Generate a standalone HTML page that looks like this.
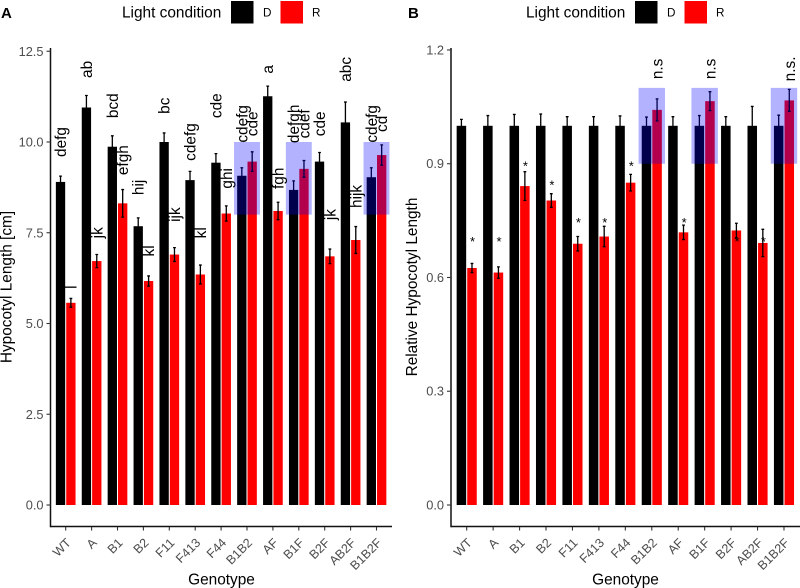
<!DOCTYPE html>
<html>
<head>
<meta charset="utf-8">
<title>Hypocotyl length by genotype</title>
<style>
html,body{margin:0;padding:0;background:#fff;width:800px;height:588px;overflow:hidden}
svg{display:block;font-family:"Liberation Sans",Arial,sans-serif}
</style>
</head>
<body>
<svg id="fig" xmlns="http://www.w3.org/2000/svg" width="800" height="588" viewBox="0 0 800 588">
  <rect x="0" y="0" width="800" height="588" fill="#fff"/>
  <g id="panelA"></g>
  <g id="panelB"></g>
</svg>
<script>
// ---- shared ----
const genotypes = ["WT","A","B1","B2","F11","F413","F44","B1B2","AF","B1F","B2F","AB2F","B1B2F"];

// ---- panel A: hypocotyl length [cm] ----
const lengthD = [8.90,10.95,9.87,7.68,10.00,8.95,9.43,9.07,11.26,8.68,9.46,10.54,9.03];
const lengthR = [5.57,6.72,8.31,6.17,6.90,6.35,8.03,9.46,8.10,9.26,6.85,7.30,9.64];
const lengthErrD = [0.16,0.33,0.30,0.23,0.25,0.24,0.25,0.22,0.28,0.25,0.25,0.56,0.26];
const lengthErrR = [0.12,0.18,0.38,0.14,0.19,0.26,0.21,0.27,0.24,0.23,0.20,0.37,0.28];
const lettersD = ["defg","ab","bcd","hij","bc","cdefg","cde","cdefg","a","defgh","cde","abc","cdefg"];
const lettersR = ["l","jk","efgh","kl","ijk","kl","ghi","cde","fgh","cdef","jk","hijk","cd"];
const lettersAtD = [10,12,11,8.75,11,10,11,10.5,12,10.5,10.5,12,10.5];
const lettersAtR = [6,7.5,9.5,7,8,7.5,9,10.5,9,10.5,8,8.5,10.5];
const lengthTicks = ["0.0","2.5","5.0","7.5","10.0","12.5"];
const lengthHighlights = ["B1B2","B1F","B1B2F"];
const lengthHighlightRange = [8,10];

// ---- panel B: relative hypocotyl length ----
const relativeD = [1,1,1,1,1,1,1,1,1,1,1,1,1];
const relativeR = [0.625,0.613,0.841,0.803,0.689,0.708,0.850,1.042,0.719,1.065,0.724,0.691,1.067];
const relativeErrD = [0.017,0.027,0.030,0.031,0.024,0.024,0.026,0.023,0.024,0.027,0.024,0.051,0.028];
const relativeErrR = [0.012,0.015,0.038,0.018,0.019,0.027,0.022,0.029,0.019,0.025,0.019,0.036,0.029];
const marksR = ["*","*","*","*","*","*","*","n.s","*","n.s","*","*","n.s."];
const marksAtR = [0.70,0.70,0.90,0.85,0.75,0.75,0.90,1.15,0.75,1.15,0.70,0.70,1.15];
const relativeTicks = ["0.0","0.3","0.6","0.9","1.2"];
const relativeHighlights = ["B1B2","B1F","B1B2F"];
const relativeHighlightRange = [0.9,1.1];

const SVGNS = "http://www.w3.org/2000/svg";
function mk(parent, tag, attrs, txt){
  const el = document.createElementNS(SVGNS, tag);
  for (const k in attrs) el.setAttribute(k, attrs[k]);
  if (txt !== undefined) el.textContent = txt;
  parent.appendChild(el);
  return el;
}

function drawPanel(cfg){
  const g = cfg.root;
  const x = i => cfg.x0 + cfg.step * i;
  const y = v => 505 - cfg.scale * v;
  const half = cfg.step * 0.2, bw = cfg.step * 0.36, cap = 1.4;

  // bars + error bars
  genotypes.forEach((name, i) => {
    [[cfg.d, cfg.ed, -1, "#000", "d"], [cfg.r, cfg.er, 1, "#ff0000", "r"]].forEach(s => {
      const cx = x(i) + s[2] * half, v = s[0][i], e = s[1][i];
      const bar = mk(g, "rect", {x: cx - bw / 2, y: y(v), width: bw, height: 505 - y(v), fill: s[3]});
      
      
      const err = mk(g, "path", {
        d: "M" + (cx - cap) + " " + y(v + e) + "H" + (cx + cap) +
           "M" + cx + " " + y(v + e) + "V" + y(v - e) +
           "M" + (cx - cap) + " " + y(v - e) + "H" + (cx + cap),
        stroke: "#000", "stroke-width": 1.3, fill: "none"});
      
      
    });
  });

  // highlight boxes
  cfg.highlights.forEach(name => {
    const i = genotypes.indexOf(name);
    const hl = mk(g, "rect", {x: x(i) - cfg.step / 2, y: y(cfg.range[1]), width: cfg.step,
      height: y(cfg.range[0]) - y(cfg.range[1]), fill: "#0000ff", "fill-opacity": 0.3});
    
    
  });

  // significance text
  cfg.annotations.forEach(a => {
    a.text.forEach((t, i) => {
      const cx = x(i) + a.side * half;
      if (t === "*") {
        const star = mk(g, "text", {x: cx + 0.6, y: y(a.at[i]) + 6.6, "font-size": 13, "text-anchor": "middle", fill: "#000"}, t);
        
        
      } else {
        const lab = mk(g, "text", {transform: "translate(" + (cx + 5.5) + "," + y(a.at[i]) + ") rotate(-90)",
          "font-size": 15.4, "text-anchor": "middle", fill: "#000"}, t);
        
        
      }
    });
  });

  // axes
  const yAxis = mk(g, "line", {x1: cfg.axisX, x2: cfg.axisX, y1: 48, y2: 527.2, stroke: "#111", "stroke-width": 1.5});
  
  
  const xAxis = mk(g, "line", {x1: cfg.axisX, x2: cfg.axisEnd, y1: 526.5, y2: 526.5, stroke: "#111", "stroke-width": 1.5});
  
  

  cfg.ticks.forEach(t => {
    const py = y(parseFloat(t));
    const tk = mk(g, "line", {x1: cfg.axisX - 4, x2: cfg.axisX, y1: py, y2: py, stroke: "#333", "stroke-width": 1.1});
    
    
    const lb = mk(g, "text", {x: cfg.axisX - 7, y: py + 4.5, "font-size": 12.8, "text-anchor": "end", fill: "#4d4d4d"}, t);
    
    
  });

  genotypes.forEach((name, i) => {
    const tk = mk(g, "line", {x1: x(i), x2: x(i), y1: 527, y2: 530.5, stroke: "#333", "stroke-width": 1.1});
    
    
    const lb = mk(g, "text", {transform: "translate(" + (x(i) + 6) + ",543.5) rotate(-45)",
      "font-size": 12.6, "text-anchor": "end", fill: "#4d4d4d"}, name);
    
    
  });

  // axis titles
  const xt = mk(g, "text", {x: cfg.xTitleX, y: 584.3, "font-size": 15.4, "text-anchor": "middle", fill: "#000"}, "Genotype");
  
  
  const yt = mk(g, "text", {transform: "translate(" + cfg.yTitleX + ",287) rotate(-90)", "font-size": 15.4, "text-anchor": "middle", fill: "#000"}, cfg.yTitle);
  
  

  // panel tag
  const tag = mk(g, "text", {x: cfg.tagX, y: 18, "font-size": 15, "font-weight": "bold", fill: "#000"}, cfg.tag);
  
  

  // legend
  const l = cfg.legendX;
  const lt = mk(g, "text", {x: l, y: 17.6, "font-size": 15.4, fill: "#000"}, "Light condition");
  
  
  const k1 = mk(g, "rect", {x: l + 109, y: 1, width: 22.5, height: 22.5, fill: "#000"});
  
  
  const t1 = mk(g, "text", {x: l + 141, y: 16.6, "font-size": 11.7, fill: "#000"}, "D");
  
  
  const k2 = mk(g, "rect", {x: l + 158.5, y: 1, width: 22.5, height: 22.5, fill: "#ff0000"});
  
  
  const t2 = mk(g, "text", {x: l + 190, y: 16.6, "font-size": 11.7, fill: "#000"}, "R");
  
  
}

drawPanel({
  root: document.getElementById("panelA"),
  x0: 65.7, step: 25.9, scale: 36.3, axisX: 50.5, axisEnd: 392,
  d: lengthD, r: lengthR, ed: lengthErrD, er: lengthErrR,
  ticks: lengthTicks, highlights: lengthHighlights, range: lengthHighlightRange,
  annotations: [{text: lettersD, at: lettersAtD, side: -1}, {text: lettersR, at: lettersAtR, side: 1}],
  xTitleX: 221.5, yTitleX: 11.5, yTitle: "Hypocotyl Length [cm]",
  tag: "A", tagX: 1, legendX: 122
});
drawPanel({
  root: document.getElementById("panelB"),
  x0: 466.7, step: 26.44, scale: 379.2, axisX: 451, axisEnd: 800,
  d: relativeD, r: relativeR, ed: relativeErrD, er: relativeErrR,
  ticks: relativeTicks, highlights: relativeHighlights, range: relativeHighlightRange,
  annotations: [{text: marksR, at: marksAtR, side: 1}],
  xTitleX: 625.5, yTitleX: 417, yTitle: "Relative Hypocotyl Length",
  tag: "B", tagX: 408, legendX: 526
});
</script>
</body>
</html>
